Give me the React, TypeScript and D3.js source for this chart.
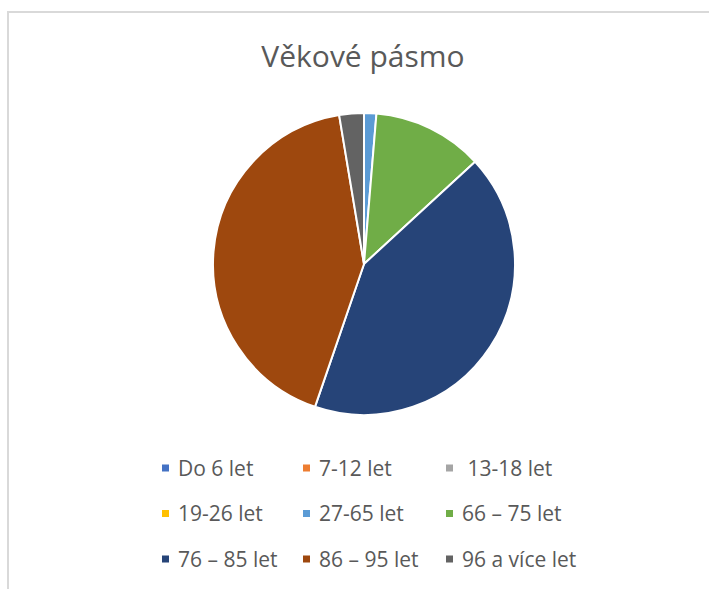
import React, { useEffect, useRef } from 'react'
import * as d3 from 'd3'

const categories = ['Do 6 let', '7-12 let', ' 13-18 let', '19-26 let', '27-65 let', '66 – 75 let', '76 – 85 let', '86 – 95 let', '96 a více let']
const counts = [0, 0, 0, 0, 1, 9, 32, 32, 2]
const colors = ['#4472C4', '#ED7D31', '#A5A5A5', '#FFC000', '#5B9BD5', '#70AD47', '#264478', '#9E480E', '#636363']
const title = 'Věkové pásmo'

const width = 709
const height = 589

export default function App() {
  const ref = useRef<SVGSVGElement>(null)

  useEffect(() => {
    const svg = d3.select(ref.current)
    svg.selectAll('*').remove()

    // frame of the chart area (cropped screenshot: only top and left edges visible)
    svg.append('path')
      .attr('d', `M8,${height} V12 H${width}`)
      .attr('fill', 'none')
      .attr('stroke', '#d9d9d9')
      .attr('stroke-width', 2)

    svg.append('text')
      .attr('x', 363)
      .attr('y', 67)
      .attr('text-anchor', 'middle')
      .attr('font-family', 'Open Sans')
      .attr('font-size', 30)
      .attr('fill', '#595959')
      .text(title)

    const cx = 364, cy = 264, r = 151
    const data = categories.map((c, i) => ({ name: c, value: counts[i], color: colors[i] }))
    const pie = d3.pie<any>().sort(null).value(d => d.value)
    const arc = d3.arc<any>().innerRadius(0).outerRadius(r)

    svg.append('g')
      .attr('transform', `translate(${cx},${cy})`)
      .selectAll('path')
      .data(pie(data).filter(d => d.data.value > 0))
      .enter()
      .append('path')
      .attr('d', arc)
      .attr('fill', d => d.data.color)
      .attr('stroke', '#fff')
      .attr('stroke-width', 2)
      .attr('stroke-linejoin', 'round')

    // legend: 3 columns x 3 rows
    const colX = d3.scaleOrdinal<number, number>().domain([0, 1, 2]).range([162, 303, 446])
    const rowY = d3.scaleLinear().domain([0, 2]).range([468, 559])

    const items = svg.append('g')
      .selectAll('g')
      .data(data)
      .enter()
      .append('g')
      .attr('transform', (d, i) => `translate(${colX(i % 3)},${rowY(Math.floor(i / 3))})`)

    items.append('rect')
      .attr('x', 0)
      .attr('y', -3.5)
      .attr('width', 7)
      .attr('height', 7)
      .attr('fill', d => d.color)

    items.append('text')
      .attr('x', 16)
      .attr('y', 7.5)
      .attr('font-family', 'Open Sans')
      .attr('font-size', 21)
      .attr('fill', '#595959')
      .attr('xml:space', 'preserve')
      .style('white-space', 'pre')
      .text(d => d.name)
  }, [])

  return (
    <svg ref={ref} width={width} height={height}
      style={{ position: 'absolute', left: 0, top: 0, background: '#fff' }} />
  )
}
